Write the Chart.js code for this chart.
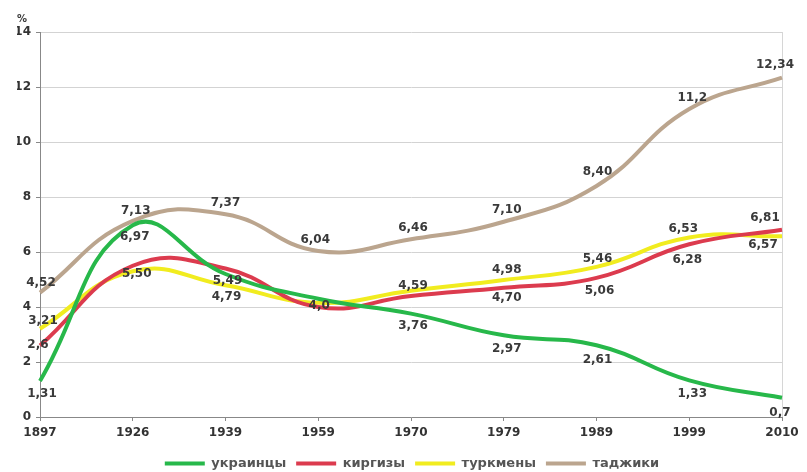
<!DOCTYPE html>
<html>
<head>
<meta charset="utf-8">
<script src="https://cdn.jsdelivr.net/npm/chart.js@4.4.1/dist/chart.umd.min.js"></script>
<style>
  html, body { margin: 0; padding: 0; background: #ffffff; }
  #wrap { width: 807px; height: 472px; position: relative; }
</style>
</head>
<body>
<div id="wrap"><canvas id="c" width="807" height="472"></canvas></div>
<script>
// ---- Data ----
const years = ['1897', '1926', '1939', '1959', '1970', '1979', '1989', '1999', '2010'];
const yTicks = [0, 2, 4, 6, 8, 10, 12, 14];

const ukrainians = [1.31, 6.97, 5.2, 4.3, 3.76, 2.97, 2.61, 1.33, 0.7];
const kyrgyz     = [2.6, 5.5, 5.4, 4.0, 4.4, 4.70, 5.06, 6.28, 6.81];
const turkmen    = [3.21, 5.3, 4.79, 4.15, 4.59, 4.98, 5.46, 6.53, 6.57];
const tajiks     = [4.52, 7.13, 7.37, 6.04, 6.46, 7.10, 8.40, 11.2, 12.34];

const ukrainiansLabels = ['1,31', '6,97', null, null, '3,76', '2,97', '2,61', '1,33', '0,7'];
const kyrgyzLabels     = ['2,6', '5,50', '5,49', '4,0', null, '4,70', '5,06', '6,28', '6,81'];
const turkmenLabels    = ['3,21', null, '4,79', null, '4,59', '4,98', '5,46', '6,53', '6,57'];
const tajiksLabels     = ['4,52', '7,13', '7,37', '6,04', '6,46', '7,10', '8,40', '11,2', '12,34'];

const seriesNames = ['украинцы', 'киргизы', 'туркмены', 'таджики'];

// ---- Styling / label placement (not data) ----
const colors = ['#27b84a', '#dc3b4e', '#f1ec1f', '#bba58e'];
const labelOffsets = [
  [[2,13],[2,12],null,null,[2,12],[3,14],[1,15],[3,13],[-2,15]],
  [[-2,-1],[4,8],[2,12],[1,-1],null,[3,10],[3,13],[-2,16],[-17,-12]],
  [[3,-8],null,[1,12],null,[2,-5],[3,-10],[1,-8],[-6,-9],[-19,9]],
  [[1,-10],[3,-10],[0,-11],[-3,-11],[2,-11],[3,-12],[1,-14],[3,-11],[-7,-13]]
];
const allLabels = [ukrainiansLabels, kyrgyzLabels, turkmenLabels, tajiksLabels];
const FONT = '"DejaVu Sans", "Liberation Sans", Arial, sans-serif';

const pointLabelPlugin = {
  id: 'pointLabels',
  afterDatasetsDraw(chart) {
    const ctx = chart.ctx;
    ctx.save();
    ctx.font = 'bold 12px ' + FONT;
    ctx.fillStyle = '#3a3a3a';
    ctx.textAlign = 'center';
    ctx.textBaseline = 'middle';
    chart.data.datasets.forEach((ds, di) => {
      const meta = chart.getDatasetMeta(di);
      meta.data.forEach((pt, i) => {
        const txt = allLabels[di][i];
        const off = labelOffsets[di][i];
        if (!txt || !off) return;
        ctx.fillText(txt, pt.x + off[0], pt.y + off[1]);
      });
    });
    ctx.font = 'bold 10px ' + FONT;
    ctx.fillText('%', 22, 19);
    ctx.restore();
  }
};

const datasets = [ukrainians, kyrgyz, turkmen, tajiks].map((vals, i) => ({
  label: seriesNames[i],
  data: vals,
  borderColor: colors[i],
  backgroundColor: colors[i],
  borderWidth: 4,
  pointRadius: 0,
  pointHoverRadius: 0,
  tension: 0.45,
  fill: false,
  order: i
}));

new Chart(document.getElementById('c'), {
  type: 'line',
  data: { labels: years, datasets },
  options: {
    responsive: false,
    animation: false,
    devicePixelRatio: 1,
    layout: { padding: { left: 17, right: 0, top: 32, bottom: -8 } },
    plugins: {
      legend: {
        position: 'bottom',
        labels: {
          boxWidth: 40,
          boxHeight: 4,
          padding: 10,
          color: '#555',
          font: { family: FONT, size: 13, weight: 'bold' },
          generateLabels(chart) {
            return Chart.defaults.plugins.legend.labels.generateLabels(chart)
              .map(l => Object.assign(l, { lineWidth: 0 }))
              .sort((a, b) => a.datasetIndex - b.datasetIndex);
          }
        }
      },
      tooltip: { enabled: false }
    },
    scales: {
      x: {
        offset: false,
        afterFit(scale) { scale.height = 30; },
        grid: {
          drawOnChartArea: true,
          color: (c) => c.index === years.length - 1 ? '#d6d6d6' : 'rgba(0,0,0,0)',
          tickColor: '#888',
          tickLength: 4
        },
        border: { color: '#888', width: 1 },
        ticks: {
          color: '#333',
          font: { family: FONT, size: 12, weight: 'bold' },
          padding: 5,
          maxRotation: 0
        }
      },
      y: {
        min: 0,
        max: 14,
        afterBuildTicks(scale) { scale.ticks = yTicks.map(v => ({ value: v })); },
        afterFit(scale) { scale.width = 23; },
        grid: { color: '#d3d3d3', tickColor: '#888', tickLength: 4 },
        border: { color: '#888', width: 1 },
        ticks: {
          color: '#333',
          font: { family: FONT, size: 12, weight: 'bold' },
          padding: 5
        }
      },
      yRight: {
        position: 'right',
        min: 0,
        max: 14,
        afterFit(scale) { scale.width = 25; },
        grid: { drawOnChartArea: false, drawTicks: false },
        border: { display: false },
        ticks: { display: false }
      }
    }
  },
  plugins: [pointLabelPlugin]
});
</script>
</body>
</html>
